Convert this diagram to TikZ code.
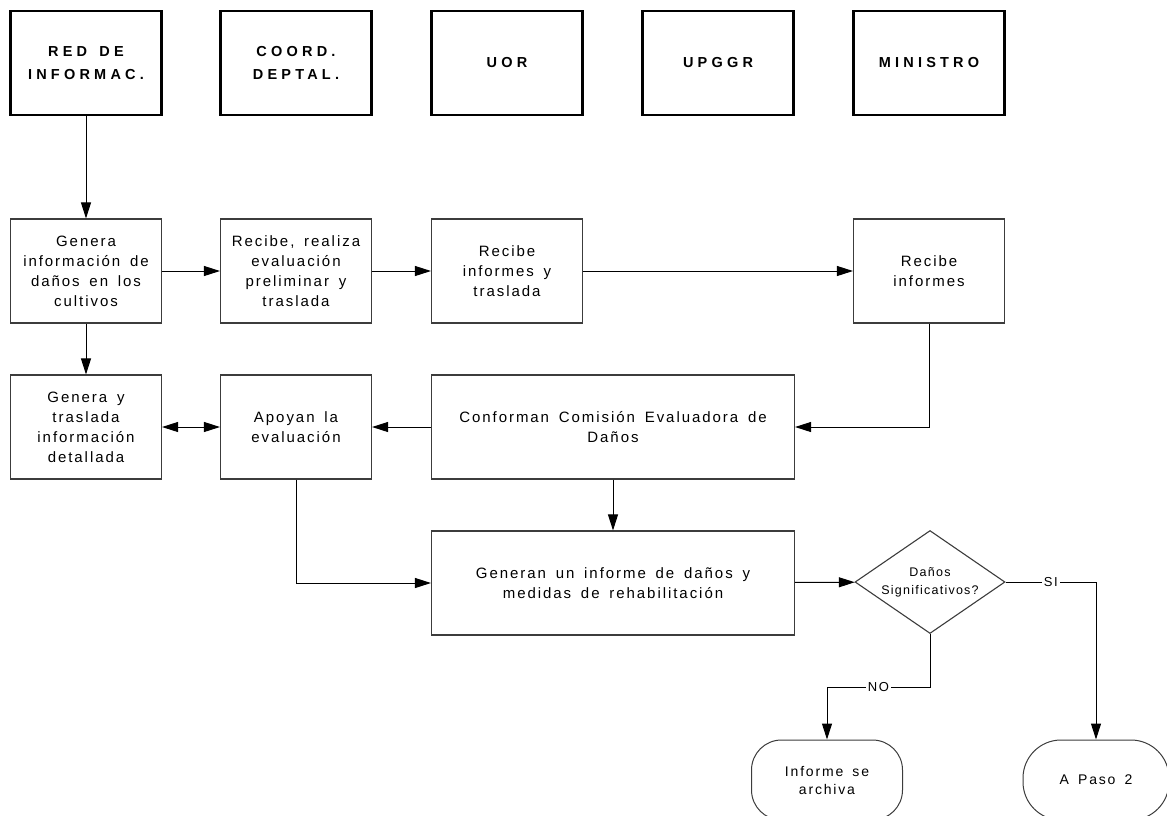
\documentclass[tikz,border=0pt]{standalone}
\usepackage{fontspec}
\setmainfont{Liberation Sans}
\newfontfamily\boxfont{Liberation Sans}[LetterSpace=13,WordSpace=1.6]
\newfontfamily\smallfont{Liberation Sans}[LetterSpace=10,WordSpace=1.6]
\newfontfamily\headfont{Liberation Sans}[LetterSpace=29,WordSpace=1.5]
\usepackage{tikz}
\usetikzlibrary{arrows.meta,shapes.geometric,positioning}
\definecolor{boxline}{RGB}{60,60,60}
\tikzstyle{head} = [rectangle, draw=black, line width=2.4pt, minimum width=151pt, minimum height=104pt, align=center, font=\headfont\bfseries\fontsize{14.5}{23}\selectfont]
\tikzstyle{stepbox} = [rectangle, draw=boxline, line width=1.1pt, minimum width=151pt, minimum height=104pt, align=center, font=\boxfont\fontsize{15}{20}\selectfont]
\tikzstyle{widebox} = [stepbox, minimum width=363pt]
\tikzstyle{decision} = [diamond, draw=boxline, line width=1.1pt, aspect=1.46, inner sep=0pt, minimum width=150pt, minimum height=103pt, align=center, font=\smallfont\fontsize{12.5}{18}\selectfont]
\tikzstyle{term} = [rectangle, draw=boxline, line width=1pt, minimum height=80pt, align=center, font=\boxfont\fontsize{14}{18}\selectfont]
\tikzstyle{arrow} = [line width=1pt, -{Triangle[length=16pt,width=10pt]}]
\tikzstyle{dblarrow} = [line width=1pt, {Triangle[length=16pt,width=10pt]}-{Triangle[length=16pt,width=10pt]}]
\tikzstyle{lbl} = [fill=white, inner sep=2pt, font=\boxfont\fontsize{13}{15}\selectfont]

\begin{document}
\begin{tikzpicture}[x=1pt, y=-1pt]
\useasboundingbox (0,0) rectangle (1167,815);

% Column heads
\node[head] (hRed) at (86,63) {RED DE\\INFORMAC.};
\node[head] (hCoord) at (296,63) {COORD.\\DEPTAL.};
\node[head] (hUor) at (507,63) {UOR};
\node[head] (hUpggr) at (718,63) {UPGGR};
\node[head] (hMin) at (929,63) {MINISTRO};

% Reports row
\node[stepbox] (gen) at (86,271) {Genera\\información de\\daños en los\\cultivos};
\node[stepbox] (rec) at (296,271) {Recibe, realiza\\evaluación\\preliminar y\\traslada};
\node[stepbox] (inf) at (507,271) {Recibe\\informes y\\traslada};
\node[stepbox] (recMin) at (929,271) {Recibe\\informes};

% Evaluation row
\node[stepbox] (det) at (86,427) {Genera y\\traslada\\información\\detallada};
\node[stepbox] (apo) at (296,427) {Apoyan la\\evaluación};
\node[widebox] (com) at (613,427) {Conforman Comisión Evaluadora de\\Daños};

% Result and decision
\node[widebox] (res) at (613,583) {Generan un informe de daños y\\medidas de rehabilitación};
\node[decision] (dec) at (930,582) {Daños\\Significativos?};

% Ends
\node[term, rounded corners=30pt, minimum width=151pt] (arch) at (827,780) {Informe se\\archiva};
\node[term, rounded corners=38pt, minimum width=146pt] (paso) at (1096,780) {A Paso 2};

% Connectors
\draw[arrow] (hRed) -- (gen);
\draw[arrow] (gen) -- (rec);
\draw[arrow] (rec) -- (inf);
\draw[arrow] (inf) -- (recMin);
\draw[arrow] (gen) -- (det);
\draw[arrow] (recMin.south) |- (com.east);
\draw[arrow] (com) -- (apo);
\draw[dblarrow] (det) -- (apo);
\draw[arrow] (com) -- (res);
\draw[arrow] (apo.south) |- (res.west);
\draw[arrow] (res) -- (dec);
\draw[arrow] (dec.east) -- node[lbl, pos=0.5]{SI} (dec.east -| paso.north) -- (paso.north);
\draw[arrow] (dec.south) -- ++(0,53) -| node[lbl, pos=0.25]{NO} (arch.north);
\end{tikzpicture}
\end{document}
